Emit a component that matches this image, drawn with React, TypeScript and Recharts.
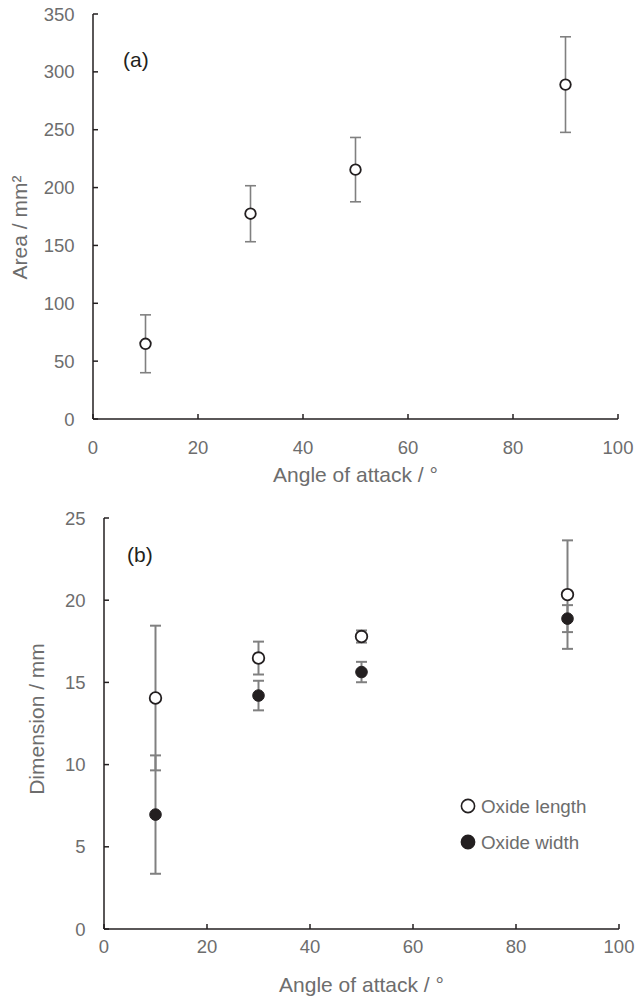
import React from 'react';
import { ScatterChart, Scatter, XAxis, YAxis, ErrorBar, ReferenceArea, Legend } from 'recharts';

const angles = [10, 30, 50, 90];
const areaMean = [65, 177.4, 215.5, 289];
const areaErr = [25, 24.2, 27.8, 41.3];
const lengthMean = [14.05, 16.48, 17.79, 20.34];
const lengthErr = [4.4, 1.0, 0.37, 3.3];
const widthMean = [6.96, 14.2, 15.63, 18.88];
const widthErr = [3.6, 0.9, 0.62, 0.82];
const xTicks = [0, 20, 40, 60, 80, 100];
const areaTicks = [0, 50, 100, 150, 200, 250, 300, 350];
const dimTicks = [0, 5, 10, 15, 20, 25];

const FONT = '"Liberation Sans", Arial, sans-serif';
const AXIS = '#231f20';
const FRAME = '#6f6f6f';
const TEXT = '#6d6d6d';
const ERR = '#808080';

const areaData = angles.map((x, i) => ({ x, y: areaMean[i], err: areaErr[i] }));
const lengthData = angles.map((x, i) => ({ x, y: lengthMean[i], err: lengthErr[i] }));
const widthData = angles.map((x, i) => ({ x, y: widthMean[i], err: widthErr[i] }));

const openCircle = (r: number) => (p: any) => (
  <circle cx={p.cx} cy={p.cy} r={r} fill="#ffffff" stroke={AXIS} strokeWidth={1.8} />
);
const filledCircle = (r: number) => (p: any) => (
  <circle cx={p.cx} cy={p.cy} r={r} fill={AXIS} stroke={AXIS} strokeWidth={1} />
);

const tickStyle = { fill: TEXT, fontSize: 18.5, fontFamily: FONT };

const xTitle = (text: string) => (props: any) => {
  const vb = props.viewBox || {};
  return (
    <text x={vb.x + vb.width / 2} y={vb.y + 63} textAnchor="middle" fill={TEXT} fontSize={21} fontFamily={FONT}>
      {text}
    </text>
  );
};

const yTitle = (text: string, bx: number, dyc: number) => (props: any) => {
  const vb = props.viewBox || {};
  const cy = vb.y + vb.height / 2 + dyc;
  return (
    <text x={bx} y={cy} transform={`rotate(-90, ${bx}, ${cy})`} textAnchor="middle" fill={TEXT} fontSize={21} fontFamily={FONT}>
      {text}
    </text>
  );
};

const panelTag = (text: string, dx: number, dy: number) => (props: any) => {
  const vb = props.viewBox || {};
  return (
    <text x={vb.x + dx} y={vb.y + dy} fill={AXIS} fontSize={21} fontFamily={FONT}>
      {text}
    </text>
  );
};

const legendItems = [
  { name: 'Oxide length', filled: false },
  { name: 'Oxide width', filled: true },
];

const LegendContent = () => (
  <div style={{ fontFamily: FONT }}>
    {legendItems.map((it) => (
      <div key={it.name} style={{ display: 'flex', alignItems: 'center', height: 36 }}>
        <svg width={16} height={16} style={{ display: 'block' }}>
          <circle cx={8} cy={8} r={6.6} fill={it.filled ? AXIS : '#ffffff'} stroke={AXIS} strokeWidth={1.6} />
        </svg>
        <span style={{ marginLeft: 5, fontSize: 18.8, color: TEXT, lineHeight: '19px', whiteSpace: 'nowrap' }}>{it.name}</span>
      </div>
    ))}
  </div>
);

const axisLine = { stroke: AXIS, strokeWidth: 1.5 };
const frameLine = { stroke: FRAME, strokeWidth: 1.1 };

export default function App() {
  return (
    <div style={{ position: 'absolute', left: 0, top: 0, width: 635, height: 1000, background: '#ffffff' }}>
      <div style={{ position: 'absolute', left: 0, top: 0 }}>
        <ScatterChart width={635} height={490} margin={{ top: 14, right: 17, left: 0, bottom: 1 }}>
          <XAxis
            xAxisId="top"
            orientation="top"
            type="number"
            domain={[0, 100]}
            height={0}
            tick={false}
            tickLine={false}
            axisLine={frameLine}
          />
          <YAxis
            yAxisId="right"
            orientation="right"
            type="number"
            domain={[0, 350]}
            width={0}
            tick={false}
            tickLine={false}
            axisLine={frameLine}
          />
          <XAxis
            type="number"
            dataKey="x"
            domain={[0, 100]}
            ticks={xTicks}
            height={70}
            tickSize={-5}
            tickMargin={26.5}
            tick={tickStyle}
            axisLine={axisLine}
            tickLine={axisLine}
            label={xTitle('Angle of attack / °')}
          />
          <YAxis
            type="number"
            dataKey="y"
            domain={[0, 350]}
            ticks={areaTicks}
            width={93}
            tickSize={-5}
            tickMargin={23.4}
            tick={tickStyle}
            axisLine={axisLine}
            tickLine={axisLine}
            label={yTitle('Area / mm²', 27, 11)}
          />
          <ReferenceArea x1={0} x2={100} y1={0} y2={350} fill="none" fillOpacity={0} stroke="none" label={panelTag('(a)', 30, 53)} />
          <Scatter name="Area" data={areaData} isAnimationActive={false} shape={openCircle(5.3)}>
            <ErrorBar dataKey="err" direction="y" width={5.5} stroke={ERR} strokeWidth={1.6} />
          </Scatter>
        </ScatterChart>
      </div>
      <div style={{ position: 'absolute', left: 0, top: 490 }}>
        <ScatterChart width={635} height={510} margin={{ top: 28, right: 16, left: 0, bottom: 1 }}>
          <XAxis
            xAxisId="top"
            orientation="top"
            type="number"
            domain={[0, 100]}
            height={0}
            tick={false}
            tickLine={false}
            axisLine={frameLine}
          />
          <YAxis
            yAxisId="right"
            orientation="right"
            type="number"
            domain={[0, 25]}
            width={0}
            tick={false}
            tickLine={false}
            axisLine={frameLine}
          />
          <XAxis
            type="number"
            dataKey="x"
            domain={[0, 100]}
            ticks={xTicks}
            height={70}
            tickSize={-5}
            tickMargin={16}
            tick={tickStyle}
            axisLine={axisLine}
            tickLine={axisLine}
            label={xTitle('Angle of attack / °')}
          />
          <YAxis
            type="number"
            dataKey="y"
            domain={[0, 25]}
            ticks={dimTicks}
            width={104}
            tickSize={-5}
            tickMargin={23.4}
            tick={tickStyle}
            axisLine={axisLine}
            tickLine={axisLine}
            label={yTitle('Dimension / mm', 44, -4.5)}
          />
          <ReferenceArea x1={0} x2={100} y1={0} y2={25} fill="none" fillOpacity={0} stroke="none" label={panelTag('(b)', 23, 44)} />
          <Scatter name="Oxide length" data={lengthData} isAnimationActive={false} shape={openCircle(5.8)}>
            <ErrorBar dataKey="err" direction="y" width={5.5} stroke={ERR} strokeWidth={2} />
          </Scatter>
          <Scatter name="Oxide width" data={widthData} isAnimationActive={false} shape={filledCircle(5.8)}>
            <ErrorBar dataKey="err" direction="y" width={5.5} stroke={ERR} strokeWidth={2} />
          </Scatter>
          <Legend
            layout="vertical"
            align="center"
            verticalAlign="middle"
            content={LegendContent}
            wrapperStyle={{ left: 460, top: 298, width: 160, height: 72 }}
          />
        </ScatterChart>
      </div>
    </div>
  );
}
